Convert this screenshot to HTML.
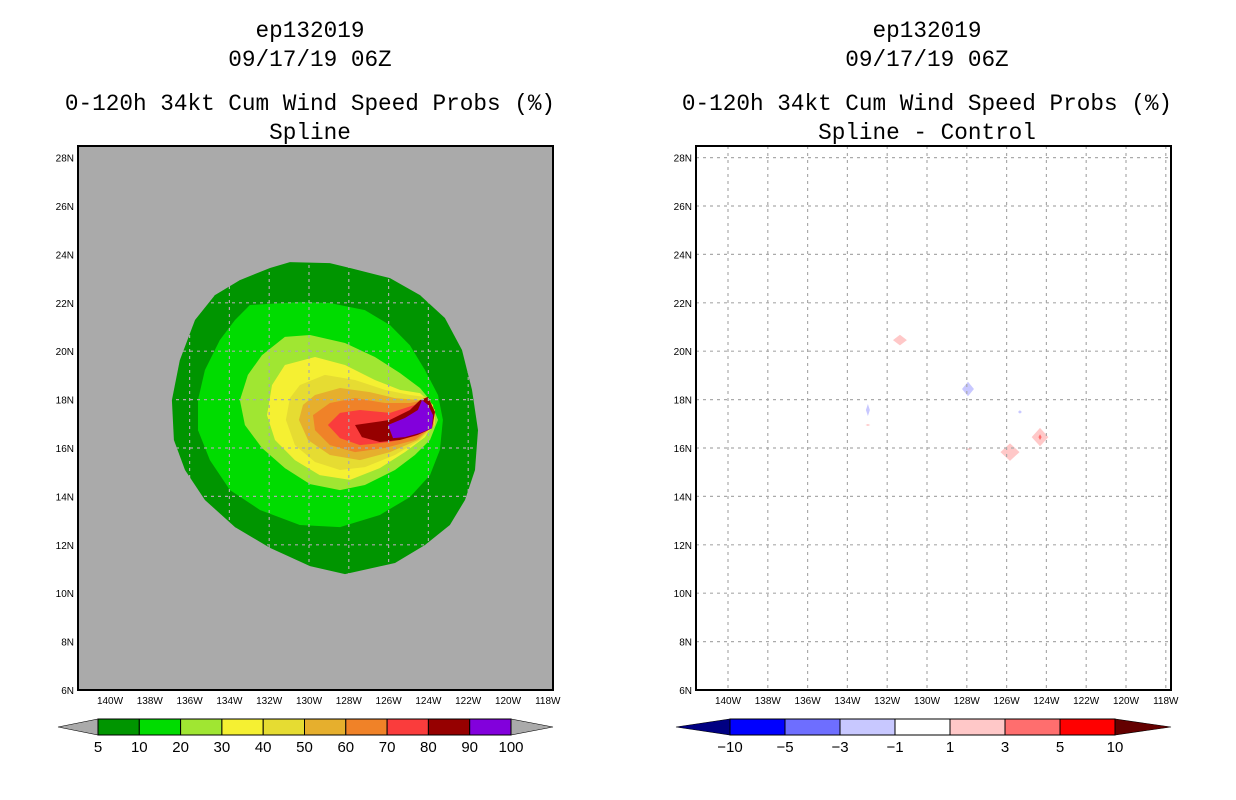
<!DOCTYPE html>
<html><head><meta charset="utf-8"><style>
body{margin:0;background:#fff;}
svg{display:block;font-family:"Liberation Sans",sans-serif;}
.t{font-family:"Liberation Mono","DejaVu Sans Mono",monospace;font-size:22.7px;fill:#000;text-anchor:middle;}
.tk{font-size:10px;fill:#000;}
.cl{font-size:15px;fill:#000;text-anchor:middle;}
</style></head><body>
<svg id="c" width="1236" height="800" viewBox="0 0 1236 800">
<g>
<text class="t" x="310" y="37">ep132019</text>
<text class="t" x="310" y="66">09/17/19 06Z</text>
<text class="t" x="310" y="110">0-120h 34kt Cum Wind Speed Probs (%)</text>
<text class="t" x="310" y="139">Spline</text>
</g>
<g>
<text class="t" x="927" y="37">ep132019</text>
<text class="t" x="927" y="66">09/17/19 06Z</text>
<text class="t" x="927" y="110">0-120h 34kt Cum Wind Speed Probs (%)</text>
<text class="t" x="927" y="139">Spline - Control</text>
</g>
</svg>
<script>
const NS='http://www.w3.org/2000/svg';
const svg=document.getElementById('c');
const latTicks=[6,8,10,12,14,16,18,20,22,24,26,28];
const lonTicks=[140,138,136,134,132,130,128,126,124,122,120,118];
const probLevels=['5','10','20','30','40','50','60','70','80','90','100'];
const probColors=['#009500','#00dc00','#a0e632','#f5f032','#e6dc32','#e6af2d','#f08228','#fa3c3c','#960000','#8200dc'];
const diffLevels=['-10','-5','-3','-1','1','3','5','10'];
const diffColors=['#000082','#0000ff','#6e6eff','#c8c8ff','#ffffff','#ffc8c8','#ff6e6e','#ff0000','#640000'];
// contour polygons: [lonW, latN] pairs, level index
const c5=[[131.96,23.44],[130.96,23.68],[128.95,23.64],[127.94,23.44],[125.93,23.02],[124.42,22.32],[123.17,21.37],[122.31,20.05],[121.81,18.40],[121.51,16.74],[121.66,15.09],[122.16,13.85],[122.92,12.82],[124.17,11.99],[125.68,11.25],[128.19,10.79],[129.95,11.12],[131.96,11.87],[133.72,12.73],[135.23,13.85],[136.23,15.09],[136.79,16.33],[136.89,17.98],[136.49,19.63],[135.73,21.29],[134.73,22.32],[133.47,22.94]];
const c10=[[132.97,21.91],[130.46,22.03],[128.95,21.99],[127.19,21.70],[125.93,21.08],[124.93,20.25],[124.17,19.22],[123.52,18.19],[123.27,17.16],[123.42,15.92],[123.92,14.88],[124.93,13.97],[126.44,13.23],[128.44,12.73],[130.46,12.82],[132.46,13.44],[133.97,14.26],[134.98,15.50],[135.58,16.74],[135.58,17.98],[135.23,19.22],[134.48,20.46],[133.72,21.29]];
const c20=[[131.21,20.59],[129.95,20.67],[128.19,20.34],[126.69,19.76],[125.43,19.10],[124.42,18.48],[123.92,17.98],[123.52,17.16],[123.92,16.33],[124.68,15.71],[125.68,15.09],[127.19,14.47],[128.44,14.26],[129.95,14.51],[131.21,15.17],[132.36,16.00],[133.22,16.95],[133.47,17.98],[133.07,19.02],[132.36,19.84]];
const c30=[[131.21,19.43],[129.70,19.76],[128.19,19.43],[126.69,18.81],[125.43,18.40],[124.42,18.27],[123.77,17.78],[123.67,17.16],[124.17,16.45],[125.18,15.83],[126.44,15.17],[127.94,14.68],[129.46,14.88],[130.71,15.50],[131.71,16.33],[132.11,17.36],[131.86,18.60]];
const c40=[[130.46,18.60],[129.20,19.02],[127.69,18.81],[126.18,18.40],[124.93,18.19],[124.17,18.11],[123.67,17.57],[123.67,16.95],[124.42,16.33],[125.68,15.71],[127.19,15.21],[128.44,15.09],[129.70,15.42],[130.71,16.12],[131.16,17.16],[130.96,18.06]];
const c50=[[129.70,18.19],[128.44,18.48],[126.94,18.31],[125.68,18.06],[124.42,17.98],[123.82,17.57],[123.72,16.95],[124.53,16.33],[125.93,15.83],[127.44,15.50],[128.95,15.71],[130.05,16.33],[130.51,17.16],[130.30,17.78]];
const c60=[[128.95,17.86],[127.69,18.06],[126.18,17.86],[124.93,17.86],[124.17,17.98],[123.82,17.36],[123.82,16.87],[124.68,16.33],[126.18,16.00],[127.69,15.83],[128.95,16.12],[129.70,16.74],[129.80,17.36]];
const c70=[[128.44,17.45],[127.44,17.57],[125.93,17.45],[124.68,17.78],[124.17,18.06],[123.67,17.49],[123.82,16.82],[124.68,16.49],[125.93,16.25],[127.44,16.12],[128.44,16.41],[129.05,16.95]];
const c80=[[127.69,16.95],[125.93,17.16],[124.93,17.57],[124.42,17.98],[124.02,18.11],[123.67,17.49],[123.82,16.82],[124.53,16.54],[125.43,16.33],[126.44,16.25],[127.34,16.45]];
const c90=[[126.03,16.95],[125.18,17.24],[124.53,17.57],[124.32,17.98],[124.02,17.78],[123.77,17.36],[123.82,16.82],[124.42,16.62],[125.18,16.45],[125.78,16.41]];
const contours=[c5,c10,c20,c30,c40,c50,c60,c70,c80,c90];
// difference blobs: lonW, latN, half-width deg, half-height deg, color index
const blobLon=[131.36,127.94,132.97,132.97,125.33,124.32,125.83,127.89,124.32];
const blobLat=[20.46,18.44,17.57,16.95,17.49,16.45,15.83,15.95,16.45];
const blobRx=[0.35,0.3,0.1,0.12,0.1,0.42,0.48,0.12,0.08];
const blobRy=[0.22,0.3,0.25,0.04,0.07,0.38,0.36,0.05,0.12];
const blobCat=[5,3,3,5,3,5,5,5,6];

const panels=[{x0:78,name:'left'},{x0:696,name:'right'}];
const W=475,Y0=146,Y1=690;
function mk(tag,attrs,parent){const e=document.createElementNS(NS,tag);for(const k in attrs)e.setAttribute(k,attrs[k]);(parent||svg).appendChild(e);return e;}
function xs(p,lonW){return p.x0+32+(140-lonW)*19.9;}
function ys(lat){return Y1-(lat-6)*24.2;}

panels.forEach((p,pi)=>{
  const g=mk('g',{});
  
  
  const bg=mk('rect',{x:p.x0,y:Y0,width:W,height:Y1-Y0,fill:pi==0?'#aaaaaa':'#ffffff'},g);
  
  
  if(pi==0){
    contours.forEach((c,i)=>{
      const pts=c.map(v=>xs(p,v[0]).toFixed(1)+','+ys(v[1]).toFixed(1)).join(' ');
      const e=mk('polygon',{points:pts,fill:probColors[i]},g);
      
      
    });
  } else {
    blobLon.forEach((lo,i)=>{
      const cx=xs(p,lo),cy=ys(blobLat[i]),rx=blobRx[i]*19.9,ry=blobRy[i]*24.2;
      const e=mk('polygon',{points:`${cx-rx},${cy} ${cx},${cy-ry} ${cx+rx},${cy} ${cx},${cy+ry}`,fill:diffColors[blobCat[i]]},g);
      
      
    });
  }
  lonTicks.forEach(l=>{
    const x=xs(p,l);
    const e=mk('line',{x1:x,x2:x,y1:Y0,y2:Y1,stroke:'#aaaaaa','stroke-width':1.2,'stroke-dasharray':'3,4'},g);
    
    
    const t=mk('text',{x:x,y:Y1+14,'text-anchor':'middle',class:'tk'},g);
    t.textContent=l+'W';
    
    
  });
  latTicks.forEach(l=>{
    const y=ys(l);
    const e=mk('line',{x1:p.x0,x2:p.x0+W,y1:y,y2:y,stroke:'#aaaaaa','stroke-width':1.2,'stroke-dasharray':'3,4'},g);
    
    
    const t=mk('text',{x:p.x0-4,y:y+4,'text-anchor':'end',class:'tk'},g);
    t.textContent=l+'N';
    
    
  });
  const fr=mk('rect',{x:p.x0,y:Y0,width:W,height:Y1-Y0,fill:'none',stroke:'#000','stroke-width':2},g);
  
  
});

function colorbar(name,tipL,b0,b1,tipR,cols,leftTri,rightTri,labels,labOffset){
  const g=mk('g',{});
  
  
  const yt=719,yb=735,ym=727;
  const n=cols.length, w=(b1-b0)/n;
  const lt=mk('polygon',{points:`${tipL},${ym} ${b0},${yt} ${b0},${yb}`,fill:leftTri,stroke:'#000','stroke-width':0.6},g);
  
  
  const rt=mk('polygon',{points:`${tipR},${ym} ${b1},${yt} ${b1},${yb}`,fill:rightTri,stroke:'#000','stroke-width':0.6},g);
  
  
  cols.forEach((c,i)=>{
    const r=mk('rect',{x:b0+i*w,y:yt,width:w,height:yb-yt,fill:c,stroke:'#000','stroke-width':1},g);
    
    
  });
  labels.forEach((l,i)=>{
    const t=mk('text',{x:b0+(i+labOffset)*w,y:yb+17,class:'cl'},g);
    t.textContent=l.replace('-','\u2212');
    
    
  });
}
colorbar('prob-colorbar',58,98,511,553,probColors,'#aaaaaa','#aaaaaa',probLevels,0);
colorbar('diff-colorbar',676,730,1115,1171,diffColors.slice(1,8),diffColors[0],diffColors[8],diffLevels,0);
</script>
</body></html>
